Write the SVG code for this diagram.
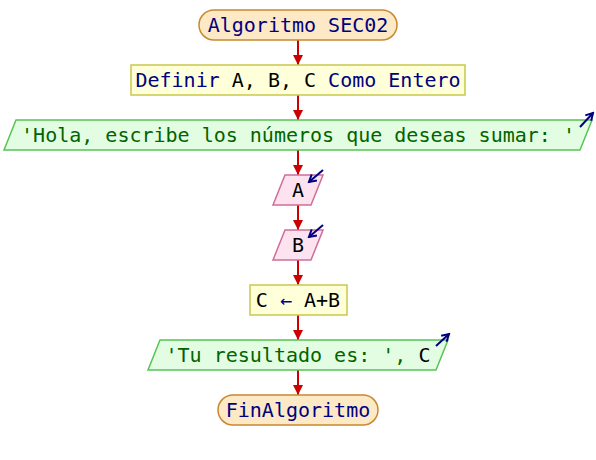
<svg xmlns="http://www.w3.org/2000/svg" width="596" height="460" viewBox="0 0 596 460">
<style>
text{font-family:"DejaVu Sans Mono","Liberation Mono",monospace;font-size:20px;text-anchor:middle}
.term{fill:#fde9c6;stroke:#c8892f;stroke-width:1.5}
.proc{fill:#ffffd9;stroke:#c9c94e;stroke-width:1.5}
.out{fill:#e3fde3;stroke:#55c455;stroke-width:1.5}
.inp{fill:#fde3ef;stroke:#cf6d98;stroke-width:1.5}
.kw{fill:#000080}
.str{fill:#006400}
.var{fill:#000000}
.con{stroke:#cc0000;stroke-width:2;fill:none}
.io{stroke:#000080;stroke-width:2;fill:none}
</style>
<defs>
<marker id="ah" markerUnits="userSpaceOnUse" markerWidth="12" markerHeight="10" refX="10" refY="5" orient="auto">
<path d="M0,0 L10,5 L0,10 Z" fill="#cc0000"/>
</marker>
<marker id="bh" markerUnits="userSpaceOnUse" markerWidth="10" markerHeight="10" refX="8" refY="5" orient="auto">
<path d="M1,1 L8,5 L1,9" fill="none" stroke="#000080" stroke-width="2"/>
</marker>
</defs>
<g id="connectors">
<line class="con" x1="298" y1="40" x2="298" y2="65" marker-end="url(#ah)"/>
<line class="con" x1="298" y1="95" x2="298" y2="120" marker-end="url(#ah)"/>
<line class="con" x1="298" y1="150" x2="298" y2="175" marker-end="url(#ah)"/>
<line class="con" x1="298" y1="205" x2="298" y2="230" marker-end="url(#ah)"/>
<line class="con" x1="298" y1="260" x2="298" y2="285" marker-end="url(#ah)"/>
<line class="con" x1="298" y1="315" x2="298" y2="340" marker-end="url(#ah)"/>
<line class="con" x1="298" y1="370" x2="298" y2="395" marker-end="url(#ah)"/>
</g>
<g id="start">
<rect class="term" x="199" y="10" width="198" height="30" rx="15" ry="15"/>
<text x="298" y="32" class="kw">Algoritmo SEC02</text>
</g>
<g id="define">
<rect class="proc" x="131" y="65" width="334" height="30"/>
<text x="298" y="87"><tspan class="kw">Definir </tspan><tspan class="var">A, B, C</tspan><tspan class="kw"> Como Entero</tspan></text>
</g>
<g id="write1">
<polygon class="out" points="16,120 592,120 580,150 4,150"/>
<text x="298" y="142" class="str">'Hola, escribe los números que deseas sumar: '</text>
<line class="io" x1="580" y1="127" x2="593" y2="113" marker-end="url(#bh)"/>
</g>
<g id="readA">
<polygon class="inp" points="285,175 323,175 311,205 273,205"/>
<text x="298" y="197" class="var">A</text>
<line class="io" x1="323" y1="170" x2="309" y2="182" marker-end="url(#bh)"/>
</g>
<g id="readB">
<polygon class="inp" points="285,230 323,230 311,260 273,260"/>
<text x="298" y="252" class="var">B</text>
<line class="io" x1="323" y1="225" x2="309" y2="237" marker-end="url(#bh)"/>
</g>
<g id="assign">
<rect class="proc" x="250" y="285" width="97" height="30"/>
<text x="298" y="307"><tspan class="var">C </tspan><tspan class="kw">←</tspan><tspan class="var"> A+B</tspan></text>
</g>
<g id="write2">
<polygon class="out" points="160,340 448,340 436,370 148,370"/>
<text x="298" y="362"><tspan class="str">'Tu resultado es: ', </tspan><tspan class="var">C</tspan></text>
<line class="io" x1="436" y1="346" x2="449" y2="334" marker-end="url(#bh)"/>
</g>
<g id="end">
<rect class="term" x="218" y="395" width="160" height="30" rx="15" ry="15"/>
<text x="298" y="417" class="kw">FinAlgoritmo</text>
</g>
</svg>
